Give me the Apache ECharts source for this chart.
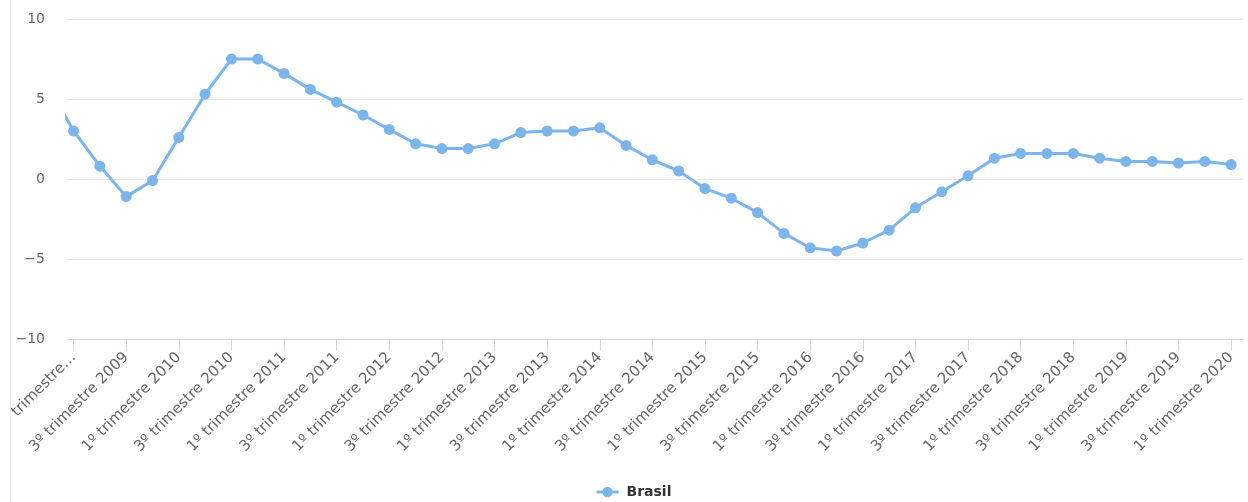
<!DOCTYPE html>
<html>
<head>
<meta charset="utf-8">
<style>
  html, body { margin: 0; padding: 0; background: #fff; overflow: hidden; }
  /* the chart box starts 10px in, with a faint left border; the canvas keeps full-width coordinates */
  #frame {
    position: absolute; left: 10px; top: 0;
    width: 1238px; height: 502px;
    overflow: hidden;
    border-left: 1px solid #eeeeee;
    box-sizing: border-box;
  }
  #chart { position: absolute; left: -11px; top: 0; width: 1248px; height: 502px; }
</style>
<script src="https://cdn.jsdelivr.net/npm/echarts@6/dist/echarts.min.js"></script>
</head>
<body>
<div id="frame"><div id="chart"></div></div>
<script>
// Quarterly categories; the first one sits just left of the visible range
const categories = [
  '4º trimestre 2008',
  '1º trimestre 2009', '2º trimestre 2009', '3º trimestre 2009', '4º trimestre 2009',
  '1º trimestre 2010', '2º trimestre 2010', '3º trimestre 2010', '4º trimestre 2010',
  '1º trimestre 2011', '2º trimestre 2011', '3º trimestre 2011', '4º trimestre 2011',
  '1º trimestre 2012', '2º trimestre 2012', '3º trimestre 2012', '4º trimestre 2012',
  '1º trimestre 2013', '2º trimestre 2013', '3º trimestre 2013', '4º trimestre 2013',
  '1º trimestre 2014', '2º trimestre 2014', '3º trimestre 2014', '4º trimestre 2014',
  '1º trimestre 2015', '2º trimestre 2015', '3º trimestre 2015', '4º trimestre 2015',
  '1º trimestre 2016', '2º trimestre 2016', '3º trimestre 2016', '4º trimestre 2016',
  '1º trimestre 2017', '2º trimestre 2017', '3º trimestre 2017', '4º trimestre 2017',
  '1º trimestre 2018', '2º trimestre 2018', '3º trimestre 2018', '4º trimestre 2018',
  '1º trimestre 2019', '2º trimestre 2019', '3º trimestre 2019', '4º trimestre 2019',
  '1º trimestre 2020'
];

// Brasil – variação (%) por trimestre, aligned with categories
const brasil = [
  5.9,
  3.0, 0.8, -1.1, -0.1,
  2.6, 5.3, 7.5, 7.5,
  6.6, 5.6, 4.8, 4.0,
  3.1, 2.2, 1.9, 1.9,
  2.2, 2.9, 3.0, 3.0,
  3.2, 2.1, 1.2, 0.5,
  -0.6, -1.2, -2.1, -3.4,
  -4.3, -4.5, -4.0, -3.2,
  -1.8, -0.8, 0.2, 1.3,
  1.6, 1.6, 1.6, 1.3,
  1.1, 1.1, 1.0, 1.1,
  0.9
];

const yTicks = [-10, -5, 0, 5, 10];
const labelEvery = 2;

// position on the x scale: first 2009 quarter is 0
const xPos = categories.map((_, i) => i - 1);
const tickPositions = xPos.filter(p => p >= 0 && p % labelEvery === 0);

const chart = echarts.init(document.getElementById('chart'), null, { renderer: 'canvas' });

chart.setOption({
  animation: false,
  backgroundColor: '#ffffff',
  grid: { left: 67, right: 5, top: 19, bottom: 163, containLabel: false, outerBoundsMode: 'none' },
  xAxis: {
    type: 'value',
    min: -0.25,
    max: 44.45,
    splitLine: { show: false },
    axisLine: { show: true, onZero: false, lineStyle: { color: '#ccd6eb', width: 1 } },
    axisTick: {
      show: true, length: 12, customValues: tickPositions,
      lineStyle: { color: '#ccd6eb', width: 1 }
    },
    axisLabel: {
      customValues: tickPositions,
      rotate: 45,
      margin: 16,
      color: '#666666',
      fontFamily: 'DejaVu Sans',
      fontSize: 15,
      formatter: function (v) {
        const name = categories[Math.round(v) + 1];
        // the leftmost label has no room for its year
        return v === 0 ? name.replace(/\s\d{4}$/, '…') : name;
      }
    }
  },
  yAxis: {
    type: 'value',
    min: yTicks[0],
    max: yTicks[yTicks.length - 1],
    interval: 5,
    axisLine: { show: false },
    axisTick: { show: false },
    splitLine: { lineStyle: { color: '#e6e6e6', width: 1 } },
    axisLabel: {
      margin: 22,
      color: '#666666',
      fontFamily: 'DejaVu Sans',
      fontSize: 14,
      formatter: v => String(v).replace('-', '\u2212')
    }
  },
  legend: {
    top: 480,
    left: 590,
    itemWidth: 22,
    itemHeight: 13,
    lineStyle: { width: 3 },
    textStyle: {
      color: '#333333', fontWeight: 'bold', fontSize: 14, fontFamily: 'DejaVu Sans',
      padding: [0, 0, 0, 3]
    },
    data: ['Brasil']
  },
  series: [{
    name: 'Brasil',
    type: 'line',
    clip: true,
    data: brasil.map((v, i) => [xPos[i], v]),
    symbol: 'circle',
    symbolSize: 11,
    showSymbol: true,
    lineStyle: { color: '#7cb5ec', width: 3 },
    itemStyle: { color: '#7cb5ec' }
  }]
});
</script>
</body>
</html>
